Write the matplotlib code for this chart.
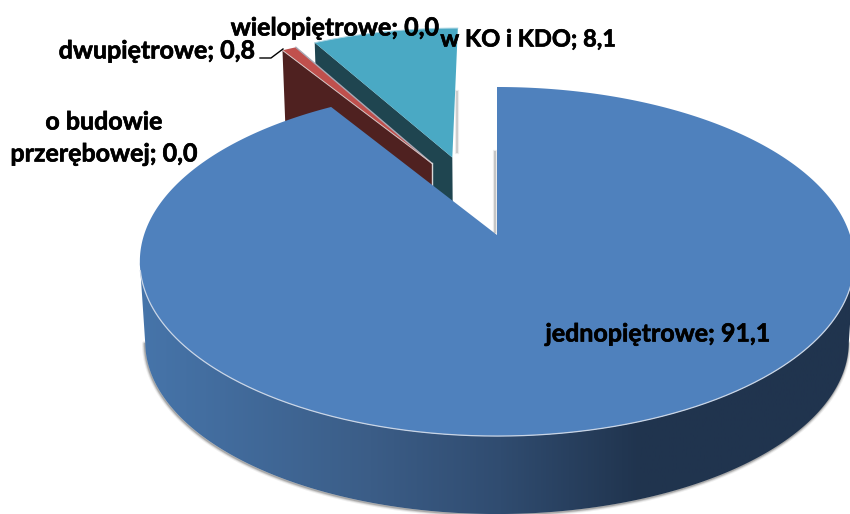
import numpy as np
import matplotlib
matplotlib.use("Agg")
import matplotlib.pyplot as plt
import matplotlib.patheffects as pe
from matplotlib.colors import LinearSegmentedColormap
from matplotlib.patches import Polygon

# ---- data
categories = ["jednopiętrowe", "o budowie\nprzerębowej", "dwupiętrowe", "wielopiętrowe", "w KO i KDO"]
values = [91.1, 0.0, 0.8, 0.0, 8.1]
value_labels = ["91,1", "0,0", "0,8", "0,0", "8,1"]

# ---- style / projection
top_colors = ["#4f81bd", "#4f81bd", "#c0504d", "#9bbb59", "#4aa9c4"]
wall_colors = [None, None, "#4f2120", None, "#1f4550"]
offsets = [(0, 0), (0, 0), (-0.197, 0.449), (0, 0), (-0.136, 0.488)]
CX, CY, A, B, K = 497.0, 235.0, 170.5, 353.0, 0.152
DEPTH, SCALE = 81.0, 0.985
side_x = np.array([130, 145, 370, 500, 640, 850], float)
side_c = ["#4674a9", "#4674a9", "#3b5d87", "#304c70", "#20344e", "#20344e"]


def proj(u, v, low=False):
    u, v = np.asarray(u, float), np.asarray(v, float)
    d = 1 + K * v
    x, y = B * u / d, -A * v / d
    if low:
        return CX + SCALE * x, CY + SCALE * y + DEPTH
    return CX + x, CY + y


def arc(t0, t1, n):
    t = np.radians(np.linspace(t0, t1, n))
    return np.sin(t), np.cos(t)


fig = plt.figure(figsize=(8.5, 5.14), dpi=100)
ax = fig.add_axes([0, 0, 1, 1])

total = sum(values)
edges = np.concatenate([[0], np.cumsum(values) / total * 360])


def wedge_xy(i, low=False):
    n = max(int(edges[i + 1] - edges[i]) * 2, 4)
    u, v = arc(edges[i], edges[i + 1], n)
    ou, ov = offsets[i]
    uu = np.concatenate([[ou], u + ou])
    vv = np.concatenate([[ov], v + ov])
    return proj(uu, vv, low)


def side_wall(i, z):
    ou, ov = offsets[i]
    u, v = arc(edges[i], edges[i], 1)
    uu, vv = np.array([u[0] + ou, ou]), np.array([v[0] + ov, ov])
    x1, y1 = proj(uu, vv)
    x2, y2 = proj(uu, vv, low=True)
    ax.fill(list(x1) + list(x2[::-1]), list(y1) + list(y2[::-1]), color=wall_colors[i], lw=0, zorder=z)


# exploded slices, back to front
side_wall(4, 2)
x, y = wedge_xy(4)
ax.fill(x, y, color=top_colors[4], lw=0, zorder=2.5)
ax.plot(x[1:], y[1:], color="#a8d4e2", lw=0.7, zorder=2.6)
for w, a in [(3.0, 0.15), (1.5, 0.35)]:
    ax.plot([457.5, 457.5], [92, 152], color="#909090", lw=w, alpha=a, zorder=1.5)
    ax.plot([495, 495], [152, 232], color="#808080", lw=w, alpha=a, zorder=1.5)

side_wall(2, 3)
x, y = wedge_xy(2)
ax.fill(x, y, color=top_colors[2], lw=0, zorder=3.5)
ax.plot([x[0], x[-1]], [y[0], y[-1]], color="#a9a9b5", lw=1.0, zorder=3.6)
ax.plot([x[0], x[1]], [y[0], y[1]], color="#d8c8c8", lw=0.7, zorder=3.6)
ax.plot([x[0] + 0.5, x[0] + 0.5], [y[0], y[0] + 22], color="#d8d8d8", lw=1.0, zorder=3.6)

# main slice: curved wall with a left-to-right gradient, then its top
u, v = arc(edges[0], edges[1], 721)
xt, yt = proj(u, v)
xb, yb = proj(u, v, low=True)
front = np.where(v < -K)[0]
wall_xy = np.column_stack([np.concatenate([xt[front], xb[front][::-1]]),
                           np.concatenate([yt[front], yb[front][::-1]])])
for w, a in [(4.0, 0.10), (2.5, 0.20), (1.2, 0.35)]:
    ax.plot(xb[front] - 0.5, yb[front] + 0.8, color="#606060", lw=w, alpha=a, zorder=3.8, solid_capstyle="round")
cmap = LinearSegmentedColormap.from_list(
    "wall", list(zip((side_x - side_x[0]) / (side_x[-1] - side_x[0]), side_c)))
grad = np.linspace(0, 1, 512).reshape(1, -1)
im = ax.imshow(grad, extent=(side_x[0], side_x[-1], 514, 0), cmap=cmap, aspect="auto", zorder=4)
wall_patch = Polygon(wall_xy, closed=True, transform=ax.transData, fc="none", ec="none")
ax.add_patch(wall_patch)
im.set_clip_path(wall_patch)

x, y = wedge_xy(0)
ax.fill(x, y, color=top_colors[0], lw=0, zorder=5)
rim = np.where(v < -0.2)[0]
ax.plot(xt[rim], yt[rim], color="#c9d5e6", lw=0.9, zorder=5.2)

# labels
stroke = [pe.withStroke(linewidth=0.45, foreground="black")]
font = dict(family="Lato", fontweight="bold", fontsize=18, color="black", zorder=8, va="center", path_effects=stroke)
ax.text(658, 334, f"{categories[0]}; {value_labels[0]}", ha="center", **font)
ax.text(104, 122, "o budowie", ha="center", **font)
ax.text(104, 154, f"przerębowej; {value_labels[1]}", ha="center", **font)
ax.text(157, 51, f"{categories[2]}; {value_labels[2]}", ha="center", **font)
ax.text(335, 28, f"{categories[3]}; {value_labels[3]}", ha="center", **font)
font["fontsize"] = 17
ax.text(528, 39, f"{categories[4]}; {value_labels[4]}", ha="center", **font)
ax.plot([260, 271, 283], [58, 58, 49], color="black", lw=1.0, zorder=7)

ax.set_xlim(0, 850)
ax.set_ylim(514, 0)
ax.axis("off")
fig.savefig("out.png", dpi=100)
